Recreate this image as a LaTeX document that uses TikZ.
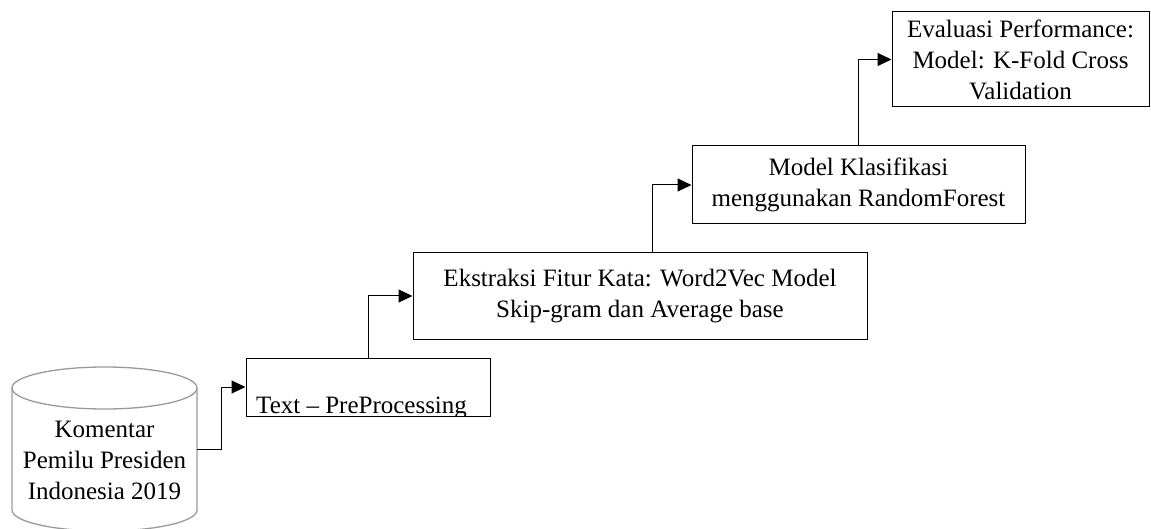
\documentclass[tikz,border=0pt]{standalone}
\usepackage{fontspec}
\setmainfont{Liberation Serif}
\usetikzlibrary{arrows.meta,calc}
\begin{document}
\begin{tikzpicture}[x=1pt,y=-1pt,
  txt/.style={font=\fontsize{25}{31}\selectfont, align=center, inner sep=0pt},
  box/.style={txt, draw, line width=1pt},
  arr/.style={line width=1pt, -{Triangle[length=14pt,width=13pt]}},
  cyl/.style={draw=black!40, line width=1.3pt},
]
\useasboundingbox (0,0) rectangle (1151,529);
% database cylinder
\draw[cyl] (12,388) -- (12,510) arc[start angle=180,end angle=0,x radius=92.5,y radius=21] -- (197,388);
\draw[cyl] (104.5,388) ellipse [x radius=92.5, y radius=21];
\node[txt, minimum width=185pt, minimum height=122pt] (db) at (104.5,449) {};
\node[txt] (dbt) at (104.5,460) {Komentar\\Pemilu Presiden\\Indonesia 2019};
% boxes
\node[box, minimum width=244pt, minimum height=58pt] (tp) at (368,387) {};
\begin{scope}
  \clip (tp.north west) rectangle (tp.south east);
  \node[txt, anchor=base west] (tpt) at (256,413) {Text -- PreProcessing};
\end{scope}
\node[box, minimum width=454pt, minimum height=86pt] (ek) at (640,296) {Ekstraksi Fitur Kata: Word2Vec Model\\Skip-gram dan Average base};
\node[box, minimum width=333pt, minimum height=78pt] (mk) at (858.5,185) {Model Klasifikasi\\menggunakan RandomForest};
\node[box, minimum width=257pt, minimum height=95pt] (ev) at (1020.5,59.5) {Evaluasi Performance:\\Model: K-Fold Cross\\Validation};
% connectors
\draw[arr] (db.east) -- ++(24,0) |- (tp.west);
\draw[arr] (tp.north) |- (ek.west);
\draw[arr] ([xshift=12pt]ek.north) |- (mk.west);
\draw[arr] (mk.north) |- (ev.west);
\end{tikzpicture}
\end{document}
